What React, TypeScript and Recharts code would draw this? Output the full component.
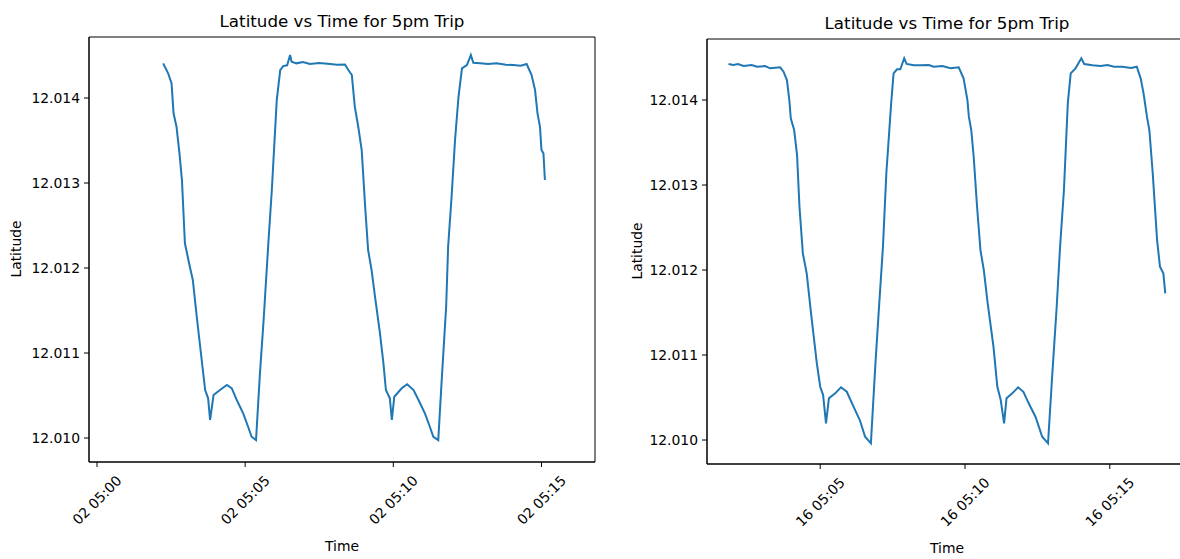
import React from 'react';
import { LineChart, Line, XAxis, YAxis, ReferenceArea } from 'recharts';

// ---- Left panel (day 02) ----
const leftTimes = [
  '05:02:14', '05:02:24', '05:02:31', '05:02:35', '05:02:41', '05:02:47', '05:02:52', '05:02:58',
  '05:03:08', '05:03:14', '05:03:22', '05:03:32', '05:03:39', '05:03:45', '05:03:49', '05:03:56',
  '05:04:09', '05:04:23', '05:04:33', '05:04:43', '05:04:56', '05:05:06', '05:05:13', '05:05:22',
  '05:05:30', '05:05:37', '05:05:47', '05:05:54', '05:06:04', '05:06:11', '05:06:17', '05:06:25',
  '05:06:31', '05:06:34', '05:06:44', '05:06:57', '05:07:11', '05:07:30', '05:07:52', '05:08:06',
  '05:08:22', '05:08:29', '05:08:36', '05:08:42', '05:08:49', '05:08:56', '05:09:03', '05:09:09',
  '05:09:16', '05:09:23', '05:09:33', '05:09:40', '05:09:45', '05:09:53', '05:09:57', '05:10:02',
  '05:10:17', '05:10:28', '05:10:41', '05:10:51', '05:11:04', '05:11:14', '05:11:21', '05:11:31',
  '05:11:38', '05:11:47', '05:11:51', '05:11:58', '05:12:05', '05:12:12', '05:12:19', '05:12:29',
  '05:12:37', '05:12:42', '05:12:56', '05:13:12', '05:13:29', '05:13:48', '05:14:03', '05:14:18',
  '05:14:30', '05:14:40', '05:14:47', '05:14:52', '05:14:57', '05:15:00', '05:15:04', '05:15:07',
];
const leftLat = [
  12.014408, 12.014291, 12.014173, 12.01382, 12.013662, 12.013349, 12.013035, 12.012291,
  12.012015, 12.011859, 12.011427, 12.010918, 12.010565, 12.010467, 12.010212, 12.010506,
  12.010565, 12.010624, 12.010585, 12.010447, 12.010291, 12.010133, 12.010015, 12.009976,
  12.010765, 12.011353, 12.012294, 12.012918, 12.013976, 12.014329, 12.014376, 12.014385,
  12.014506, 12.014427, 12.014408, 12.014424, 12.0144, 12.014412, 12.0144, 12.014392,
  12.014394, 12.014329, 12.014271, 12.013898, 12.013662, 12.013388, 12.012721, 12.012212,
  12.011976, 12.011662, 12.011232, 12.010879, 12.010565, 12.010467, 12.010212, 12.010486,
  12.010585, 12.010632, 12.010565, 12.010447, 12.010291, 12.010133, 12.010015, 12.009976,
  12.010682, 12.011545, 12.012251, 12.012839, 12.013506, 12.014015, 12.014349, 12.014388,
  12.014506, 12.014415, 12.014408, 12.0144, 12.014408, 12.014392, 12.014388, 12.01438,
  12.0144, 12.014271, 12.014094, 12.01382, 12.013662, 12.013388, 12.013349, 12.013035,
];

// ---- Right panel (day 16) ----
const rightTimes = [
  '05:01:50', '05:02:00', '05:02:10', '05:02:21', '05:02:38', '05:02:49', '05:03:06', '05:03:16',
  '05:03:37', '05:03:44', '05:03:51', '05:03:56', '05:03:59', '05:04:06', '05:04:12', '05:04:17',
  '05:04:24', '05:04:32', '05:04:41', '05:04:53', '05:05:00', '05:05:06', '05:05:12', '05:05:18',
  '05:05:31', '05:05:43', '05:05:55', '05:06:09', '05:06:22', '05:06:33', '05:06:45', '05:06:54',
  '05:07:01', '05:07:10', '05:07:17', '05:07:27', '05:07:32', '05:07:39', '05:07:46', '05:07:54',
  '05:07:59', '05:08:14', '05:08:28', '05:08:45', '05:08:55', '05:09:13', '05:09:30', '05:09:47',
  '05:09:57', '05:10:05', '05:10:08', '05:10:13', '05:10:18', '05:10:25', '05:10:32', '05:10:39',
  '05:10:47', '05:10:59', '05:11:07', '05:11:14', '05:11:21', '05:11:26', '05:11:38', '05:11:50',
  '05:12:01', '05:12:12', '05:12:26', '05:12:40', '05:12:52', '05:13:01', '05:13:10', '05:13:17',
  '05:13:25', '05:13:33', '05:13:39', '05:13:49', '05:14:01', '05:14:07', '05:14:24', '05:14:41',
  '05:14:55', '05:15:09', '05:15:26', '05:15:44', '05:15:56', '05:16:04', '05:16:10', '05:16:17',
  '05:16:22', '05:16:29', '05:16:38', '05:16:44', '05:16:51', '05:16:55',
];
const rightLat = [
  12.014424, 12.014412, 12.014424, 12.0144, 12.014412, 12.014392, 12.0144, 12.014373,
  12.014385, 12.014333, 12.014235, 12.014, 12.013785, 12.013647, 12.013353, 12.012745,
  12.012196, 12.011961, 12.011491, 12.010902, 12.010627, 12.010529, 12.010196, 12.010491,
  12.010549, 12.01062, 12.010568, 12.010392, 12.010235, 12.010039, 12.009961, 12.010862,
  12.011491, 12.012274, 12.013138, 12.013961, 12.014314, 12.014361, 12.014361, 12.014491,
  12.014424, 12.014408, 12.014408, 12.014412, 12.014392, 12.0144, 12.014373, 12.014385,
  12.014255, 12.014, 12.013804, 12.013647, 12.013333, 12.012745, 12.012235, 12.012,
  12.011608, 12.011098, 12.010627, 12.010471, 12.010196, 12.010491, 12.010549, 12.01062,
  12.010568, 12.010432, 12.010274, 12.010039, 12.009961, 12.010785, 12.011568, 12.012274,
  12.012941, 12.013961, 12.014314, 12.014373, 12.014491, 12.014424, 12.014408, 12.0144,
  12.014412, 12.014392, 12.014392, 12.014376, 12.014392, 12.014255, 12.014079, 12.013804,
  12.013647, 12.013138, 12.012353, 12.012039, 12.011961, 12.011726,
];

const yTicks = [12.01, 12.011, 12.012, 12.013, 12.014];
const leftXTicks = ['05:00', '05:05', '05:10', '05:15'];
const rightXTicks = ['05:05', '05:10', '05:15'];
const leftDay = '02';
const rightDay = '16';
const titleText = 'Latitude vs Time for 5pm Trip';
const xLabel = 'Time';
const yLabel = 'Latitude';

const toSec = (s: string) => {
  const p = s.split(':').map(Number);
  const h = p[0], m = p[1], sec = p[2] || 0;
  return (h - 5) * 3600 + m * 60 + sec;
};
const leftData = leftTimes.map((t, i) => ({ t: toSec(t), lat: leftLat[i] }));
const rightData = rightTimes.map((t, i) => ({ t: toSec(t), lat: rightLat[i] }));

const FONT = '"DejaVu Sans", sans-serif';
const Y_DOMAIN: [number, number] = [12.009718, 12.014718];
const BLUE = '#1f77b4';

const fmtX = (v: number) => {
  const m = Math.round(v / 60);
  return '05:' + String(m).padStart(2, '0');
};

const makeXTick = (day: string) => (props: any) => {
  const { x, y, payload } = props;
  return (
    <g transform={`translate(${x},${y + 31}) rotate(-45)`}>
      <text textAnchor="middle" dominantBaseline="central" fontSize={13.9} fill="#000" fontFamily={FONT}>
        {day + ' ' + fmtX(payload.value)}
      </text>
    </g>
  );
};

interface PanelProps {
  data: { t: number; lat: number }[];
  xDomain: [number, number];
  xTicks: number[];
  day: string;
  margin: { top: number; right: number; bottom: number; left: number };
}

const Panel = ({ data, xDomain, xTicks, day, margin }: PanelProps) => (
  <LineChart width={600} height={559} data={data} margin={margin}>
    <XAxis
      dataKey="t"
      type="number"
      domain={xDomain}
      allowDataOverflow
      ticks={xTicks}
      interval={0}
      tickSize={5}
      tickMargin={2}
      height={60}
      axisLine={{ stroke: '#000', strokeWidth: 1 }}
      tickLine={{ stroke: '#000', strokeWidth: 1 }}
      tick={makeXTick(day)}
    />
    <YAxis
      dataKey="lat"
      type="number"
      domain={Y_DOMAIN}
      allowDataOverflow
      ticks={yTicks}
      interval={0}
      width={70}
      tickSize={5}
      tickMargin={4}
      axisLine={{ stroke: '#000', strokeWidth: 1 }}
      tickLine={{ stroke: '#000', strokeWidth: 1 }}
      tick={{ fontSize: 13.9, fill: '#000', fontFamily: FONT }}
      tickFormatter={(v: number) => v.toFixed(3)}
    />
    <ReferenceArea
      x1={xDomain[0]}
      x2={xDomain[1]}
      y1={Y_DOMAIN[0]}
      y2={Y_DOMAIN[1]}
      fill="none"
      fillOpacity={0}
      stroke="#000"
      strokeWidth={1}
      ifOverflow="visible"
    />
    <Line
      type="linear"
      dataKey="lat"
      stroke={BLUE}
      strokeWidth={2}
      dot={false}
      activeDot={false}
      isAnimationActive={false}
    />
  </LineChart>
);

const textStyle: React.CSSProperties = {
  position: 'absolute',
  fontFamily: FONT,
  color: '#000',
  whiteSpace: 'nowrap',
  transform: 'translate(-50%, -50%)',
  lineHeight: 1,
};

export default function App() {
  return (
    <div
      style={{
        position: 'absolute',
        left: 0,
        top: 0,
        width: 1180,
        height: 559,
        overflow: 'hidden',
        background: '#fff',
      }}
    >
      <div style={{ position: 'absolute', left: 0, top: 0 }}>
        <Panel
          data={leftData}
          xDomain={[-16.2, 1008.4]}
          xTicks={leftXTicks.map(toSec)}
          day={leftDay}
          margin={{ top: 37, right: 5, bottom: 37, left: 19 }}
        />
      </div>
      <div style={{ position: 'absolute', left: 600, top: 0 }}>
        <Panel
          data={rightData}
          xDomain={[65.4, 1060]}
          xTicks={rightXTicks.map(toSec)}
          day={rightDay}
          margin={{ top: 39, right: 13, bottom: 35, left: 37 }}
        />
      </div>
      <div style={{ ...textStyle, left: 342, top: 21, fontSize: 16.7 }}>{titleText}</div>
      <div style={{ ...textStyle, left: 947, top: 23, fontSize: 16.7 }}>{titleText}</div>
      <div style={{ ...textStyle, left: 342, top: 547, fontSize: 13.9 }}>{xLabel}</div>
      <div style={{ ...textStyle, left: 947, top: 549, fontSize: 13.9 }}>{xLabel}</div>
      <div style={{ ...textStyle, left: 17, top: 249, fontSize: 13.9, transform: 'translate(-50%, -50%) rotate(-90deg)' }}>{yLabel}</div>
      <div style={{ ...textStyle, left: 638, top: 251, fontSize: 13.9, transform: 'translate(-50%, -50%) rotate(-90deg)' }}>{yLabel}</div>
    </div>
  );
}
